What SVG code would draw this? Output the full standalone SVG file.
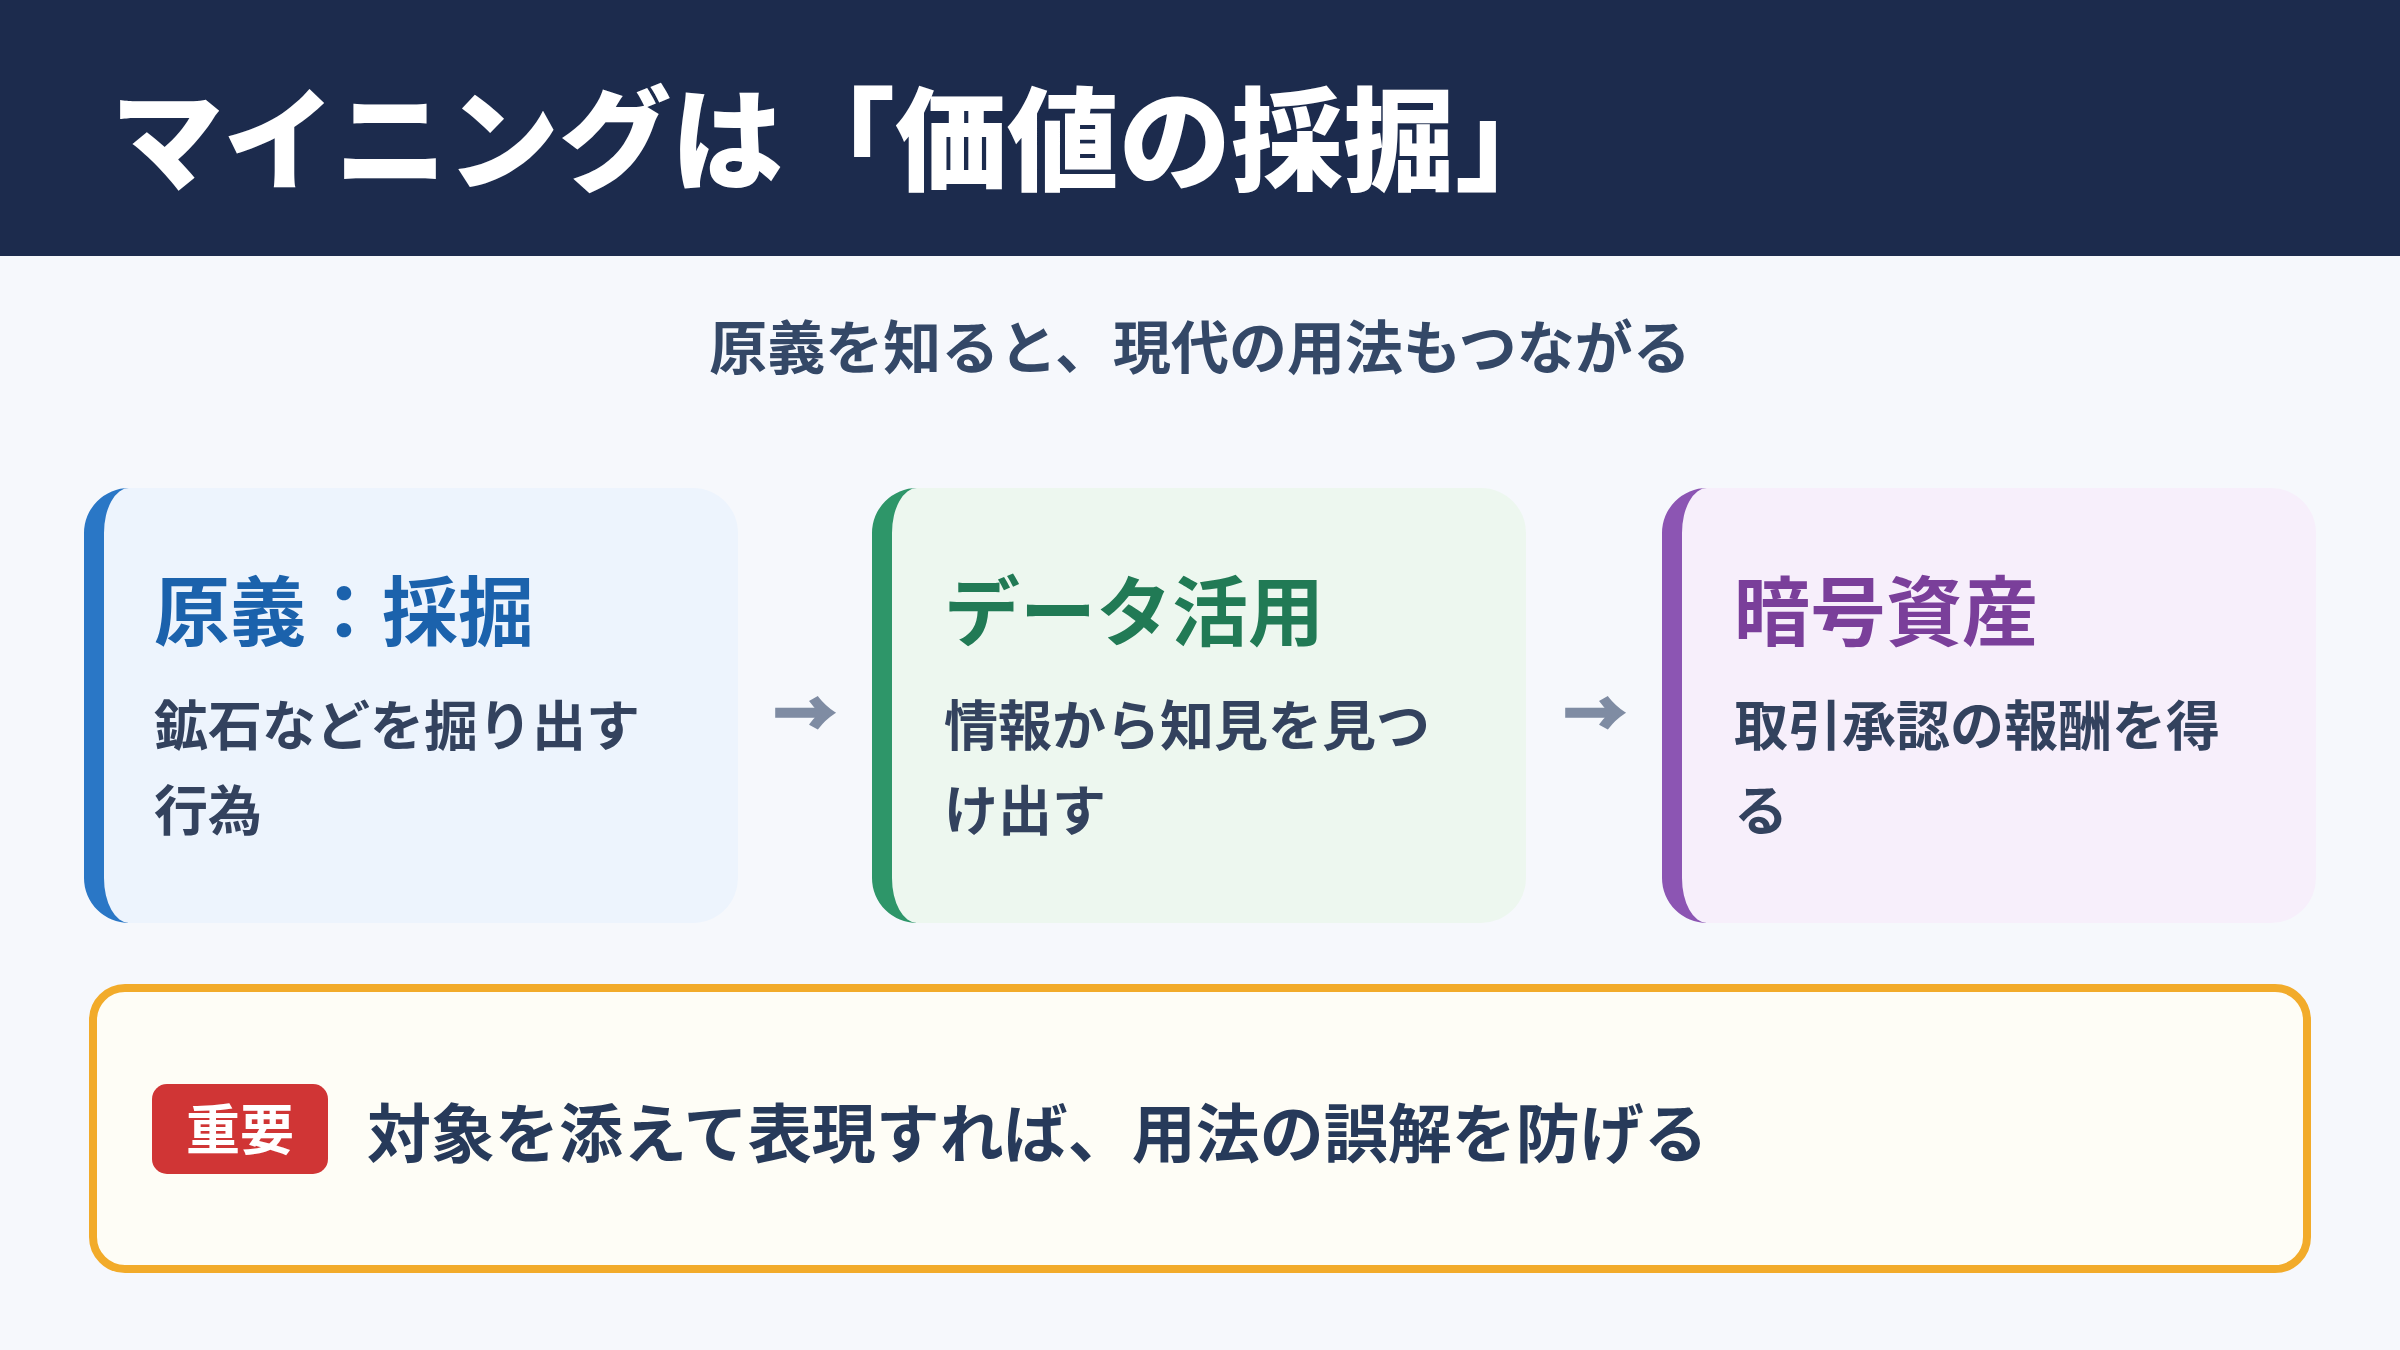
<svg xmlns="http://www.w3.org/2000/svg" width="2400" height="1350" viewBox="0 0 2400 1350">
<style>
text{font-family:"Noto Sans CJK JP","Noto Sans",sans-serif;font-weight:700}
.title{font-size:112px;fill:#ffffff;font-weight:900}
.sub{font-size:58px;fill:#344867}
.ctitle{font-size:76px}
.desc{font-size:54px;fill:#33425e}
.arrow{font-size:62px;fill:#7f8ca3;stroke:#7f8ca3;stroke-width:2.5;text-anchor:middle;font-weight:900}
.badge{font-size:54px;fill:#ffffff;text-anchor:middle}
.note{font-size:64px;fill:#273a5a}
</style>
<rect x="0" y="0" width="2400" height="1350" fill="#f6f8fc"/>
<g id="header">
<rect x="0" y="0" width="2400" height="256" fill="#1c2b4d"/>
<text class="title" x="111" y="182">マイニングは「価値の採掘」</text>
</g>
<text class="sub" x="1200" y="369" text-anchor="middle">原義を知ると、現代の用法もつながる</text>
<g id="card-origin">
<path d="M129,488 H693 A45,45 0 0 1 738,533 V878 A45,45 0 0 1 693,923 H129 A25,45 0 0 1 104,878 V533 A25,45 0 0 1 129,488 Z" fill="#edf4fd"/>
<path d="M129,488 A45,45 0 0 0 84,533 V878 A45,45 0 0 0 129,923 A25,45 0 0 1 104,878 V533 A25,45 0 0 1 129,488 Z" fill="#2a77c6"/>
<text class="ctitle" x="154" y="640" fill="#1b62ac">原義：採掘</text>
<text class="desc" x="154" y="746">鉱石などを掘り出す</text>
<text class="desc" x="154" y="831">行為</text>
</g>
<g id="card-data">
<path d="M917,488 H1481 A45,45 0 0 1 1526,533 V878 A45,45 0 0 1 1481,923 H917 A25,45 0 0 1 892,878 V533 A25,45 0 0 1 917,488 Z" fill="#edf7ef"/>
<path d="M917,488 A45,45 0 0 0 872,533 V878 A45,45 0 0 0 917,923 A25,45 0 0 1 892,878 V533 A25,45 0 0 1 917,488 Z" fill="#2e9669"/>
<text class="ctitle" x="944" y="640" fill="#217a55">データ活用</text>
<text class="desc" x="944" y="746">情報から知見を見つ</text>
<text class="desc" x="944" y="831">け出す</text>
</g>
<g id="card-crypto">
<path d="M1707,488 H2271 A45,45 0 0 1 2316,533 V878 A45,45 0 0 1 2271,923 H1707 A25,45 0 0 1 1682,878 V533 A25,45 0 0 1 1707,488 Z" fill="#f7effb"/>
<path d="M1707,488 A45,45 0 0 0 1662,533 V878 A45,45 0 0 0 1707,923 A25,45 0 0 1 1682,878 V533 A25,45 0 0 1 1707,488 Z" fill="#8c55b3"/>
<text class="ctitle" x="1734" y="640" fill="#7a3f9a">暗号資産</text>
<text class="desc" x="1734" y="746">取引承認の報酬を得</text>
<text class="desc" x="1734" y="831">る</text>
</g>
<g id="connectors">
<text class="arrow" x="805" y="737">→</text>
<text class="arrow" x="1595" y="737">→</text>
</g>
<g id="note">
<rect x="93" y="988" width="2214" height="281" rx="32" ry="32" fill="#fefdf6" stroke="#f2ab2a" stroke-width="8"/>
<rect x="152" y="1084" width="176" height="90" rx="15" ry="15" fill="#d03535"/>
<text class="badge" x="240" y="1150">重要</text>
<text class="note" x="367" y="1157">対象を添えて表現すれば、用法の誤解を防げる</text>
</g>
</svg>
